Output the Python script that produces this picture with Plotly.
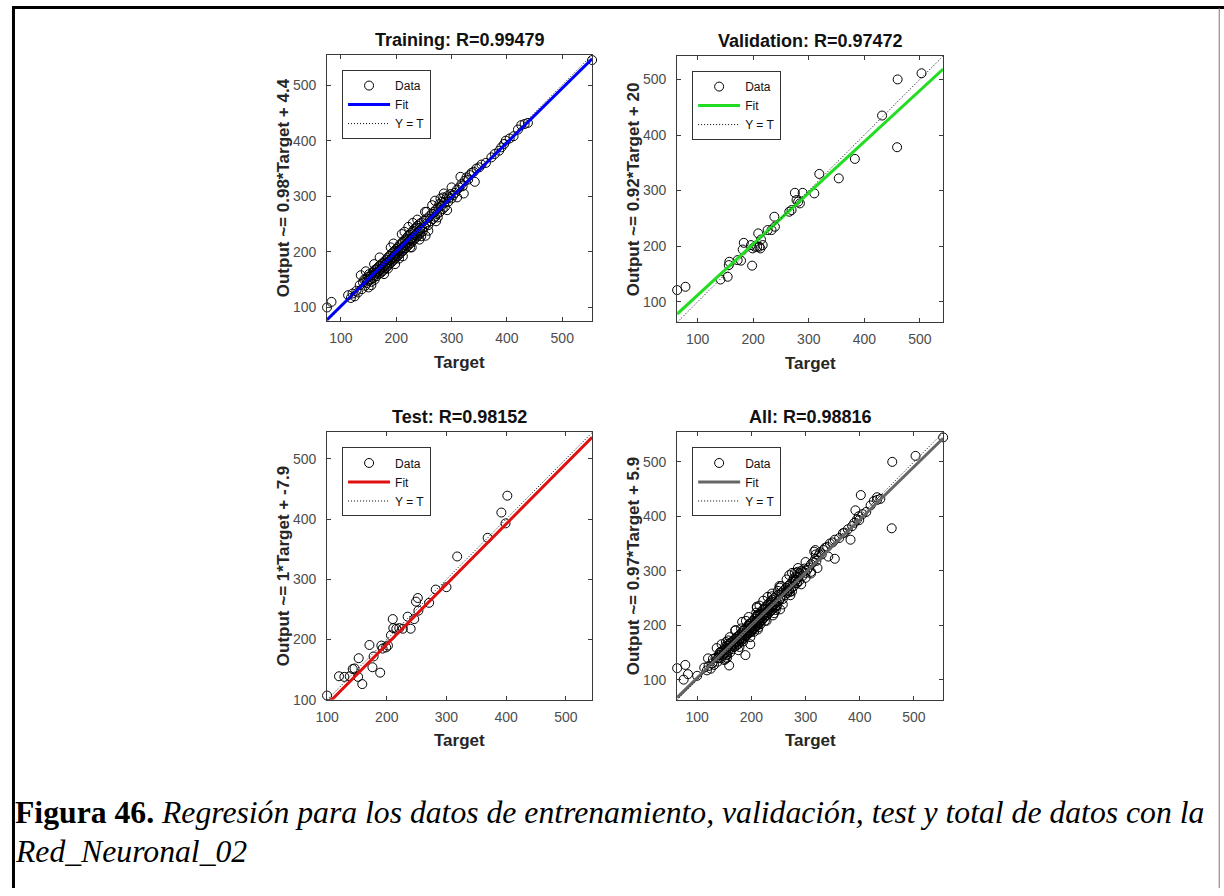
import plotly.graph_objects as go

# ---- data: targets and network outputs per subset ----
train_target = [75, 83, 113, 118, 121, 125, 128, 131, 134, 136, 138, 140, 142, 144, 146, 147, 149, 150,
                151, 153, 154, 155, 157, 158, 159, 160, 161, 162, 163, 164, 165, 166, 167, 168, 169, 170,
                171, 172, 173, 174, 175, 176, 177, 178, 179, 180, 181, 182, 183, 184, 185, 186, 187, 188,
                189, 190, 191, 192, 193, 194, 195, 196, 197, 198, 199, 200, 201, 202, 203, 204, 205, 206,
                207, 208, 209, 210, 211, 212, 213, 214, 215, 216, 217, 218, 219, 220, 221, 222, 223, 224,
                225, 226, 227, 228, 229, 230, 231, 232, 233, 234, 235, 236, 237, 238, 239, 240, 241, 242,
                243, 244, 246, 247, 248, 250, 251, 253, 254, 256, 258, 260, 262, 264, 266, 268, 270, 272,
                274, 276, 278, 279, 280, 282, 283, 284, 285, 287, 288, 290, 292, 294, 296, 298, 300, 303,
                306, 310, 314, 318, 320, 324, 327, 330, 333, 336, 340, 342, 345, 350, 354, 362, 372, 378,
                386, 390, 395, 398, 405, 412, 420, 426, 432, 438, 554,
                150, 160, 185, 190, 205, 215, 225, 230, 245, 255, 265, 275, 300, 310,
                145, 155, 170, 178, 195, 198, 210, 212, 222, 228, 238, 242, 252, 258, 270, 272, 286, 292,
                316, 322]
train_output = [100, 110, 122, 117, 125, 120, 130, 127, 140, 158, 133, 145, 150, 139, 152, 144, 155, 148,
                160, 150, 157, 146, 162, 153, 165, 158, 150, 168, 161, 156, 170, 163, 172, 160, 166, 175,
                168, 162, 178, 170, 165, 180, 173, 168, 183, 176, 171, 186, 179, 174, 190, 182, 177, 193,
                185, 180, 196, 188, 183, 199, 191, 186, 202, 194, 189, 205, 197, 192, 208, 200, 195, 212,
                203, 198, 215, 206, 201, 218, 209, 204, 221, 212, 207, 224, 215, 210, 228, 218, 213, 231,
                221, 216, 234, 224, 219, 238, 227, 222, 241, 230, 225, 244, 233, 228, 247, 236, 231, 250,
                239, 234, 253, 242, 237, 256, 245, 229, 250, 260, 248, 264, 255, 268, 259, 272, 263, 276,
                268, 280, 286, 272, 296, 283, 290, 277, 298, 288, 281, 295, 300, 290, 298, 304, 296, 302,
                306, 312, 316, 322, 318, 328, 334, 330, 338, 342, 344, 326, 350, 352, 357, 360, 370, 376,
                382, 388, 394, 400, 404, 408, 420, 428, 430, 432, 545,
                136, 178, 170, 208, 188, 236, 208, 252, 228, 272, 284, 262, 316, 298,
                165, 140, 190, 160, 215, 178, 232, 192, 245, 208, 258, 222, 272, 238, 292, 255, 305, 275,
                335, 305]

val_target = [63, 78, 141, 154, 156, 157, 172, 178, 181, 183, 196, 198, 199, 203, 207, 209, 211, 213,
              214, 217, 226, 233, 238, 239, 265, 269, 275, 278, 281, 284, 289, 310, 319, 354, 383, 432,
              459, 460, 503]
val_output = [121, 127, 140, 145, 166, 172, 175, 174, 194, 206, 202, 165, 196, 199, 199, 223, 199, 196,
              212, 202, 229, 229, 253, 235, 262, 265, 296, 283, 280, 277, 296, 295, 330, 322, 357, 435,
              378, 500, 511]

test_target = [100, 120, 129, 138, 143, 146, 152, 153, 159, 171, 176, 178, 189, 191, 193, 199, 202, 207,
               210, 211, 216, 221, 227, 235, 240, 246, 249, 252, 253, 271, 282, 300, 318, 369, 392, 399,
               402]
test_output = [107, 139, 138, 139, 151, 152, 138, 169, 126, 191, 154, 172, 145, 190, 185, 187, 190, 207,
               234, 219, 218, 219, 218, 238, 218, 234, 263, 269, 248, 261, 283, 287, 338, 369, 411, 393,
               439]

# ---- per-panel settings ----
titles = ["Training: R=0.99479", "Validation: R=0.97472", "Test: R=0.98152", "All: R=0.98816"]
ylabels = ["Output ~= 0.98*Target + 4.4", "Output ~= 0.92*Target + 20",
           "Output ~= 1*Target + -7.9", "Output ~= 0.97*Target + 5.9"]
slopes = [0.98, 0.92, 1.0, 0.97]
intercepts = [4.4, 20, -7.9, 5.9]
limits = [(75, 554), (63, 542), (100, 544), (63, 554)]
fit_colors = ["#0000ff", "#22dd22", "#e01010", "#666666"]
tick_vals = [100, 200, 300, 400, 500]

targets = [train_target, val_target, test_target, train_target + val_target + test_target]
outputs = [train_output, val_output, test_output, train_output + val_output + test_output]

W, H = 1224, 896
# page layout is specified in screen pixels; the rendered page sits 12 px in and at 0.99 scale
OFFSET_X, SCALE = 12, 0.99


def fx(px):
    return (px - OFFSET_X) / SCALE / W


def fy(py):
    return 1 - py / SCALE / H


# axes boxes in screen pixels: left, right, top, bottom
boxes = [(327, 592, 55, 321), (677, 943, 56, 322), (327, 592, 432, 699), (677, 943, 432, 699)]

fig = go.Figure()
AX = "#3a3a3a"
SANS = "Liberation Sans, Arial, sans-serif"
SERIF = "Liberation Serif, Times New Roman, serif"
TICKFONT = dict(family=SANS, size=14, color="#4d4d4d")

annotations = []
legends = {}
for i in range(4):
    n = "" if i == 0 else str(i + 1)
    xa, ya = "x" + n, "y" + n
    lg = "legend" + n
    lo, hi = limits[i]
    l, r, t, b = boxes[i]

    fig.add_trace(go.Scatter(
        x=targets[i], y=outputs[i], mode="markers", name="Data", xaxis=xa, yaxis=ya, legend=lg,
        marker=dict(symbol="circle-open", size=9, color="black", line=dict(width=1, color="black")),
        cliponaxis=False))
    fig.add_trace(go.Scatter(
        x=[lo, hi], y=[slopes[i] * lo + intercepts[i], slopes[i] * hi + intercepts[i]],
        mode="lines", name="Fit", xaxis=xa, yaxis=ya, legend=lg,
        line=dict(color=fit_colors[i], width=3)))
    fig.add_trace(go.Scatter(
        x=[lo, hi], y=[lo, hi], mode="lines", name="Y = T", xaxis=xa, yaxis=ya, legend=lg,
        line=dict(color="black", width=1, dash="1px,2px")))

    axis_common = dict(range=[lo, hi], tickvals=tick_vals, ticks="inside", ticklen=4, tickcolor=AX,
                       showline=True, linecolor=AX, linewidth=1, mirror="ticks", showgrid=False,
                       zeroline=False, tickfont=TICKFONT)
    fig.update_layout(**{
        "xaxis" + n: dict(domain=[fx(l), fx(r)], anchor=ya, ticklabelstandoff=4, **axis_common),
        "yaxis" + n: dict(domain=[fy(b), fy(t)], anchor=xa, ticklabelstandoff=7, **axis_common),
    })

    cx = (l + r) / 2
    cy = (t + b) / 2
    annotations.append(dict(text="<b>" + titles[i] + "</b>", x=fx(cx), y=fy(t - 15),
                            xref="paper", yref="paper", showarrow=False, xanchor="center",
                            yanchor="middle", font=dict(family=SANS, size=18, color="#111111")))
    annotations.append(dict(text="<b>Target</b>", x=fx(cx), y=fy(b + 41),
                            xref="paper", yref="paper", showarrow=False, xanchor="center",
                            yanchor="middle", font=dict(family=SANS, size=17, color="#262626")))
    annotations.append(dict(text="<b>" + ylabels[i] + "</b>", x=fx(l - 44), y=fy(cy),
                            xref="paper", yref="paper", showarrow=False, xanchor="center",
                            yanchor="middle", textangle=-90,
                            font=dict(family=SANS, size=17, color="#262626")))

    legends[lg] = dict(x=fx(l + 15), y=fy(t + 15), xanchor="left", yanchor="top",
                       bgcolor="white", bordercolor="#333333", borderwidth=1,
                       font=dict(family=SANS, size=12, color="#111111"),
                       tracegroupgap=0, itemwidth=42)

# figure caption
annotations.append(dict(
    text="<b>Figura 46.</b> <i>Regresión para los datos de entrenamiento, validación, test y total de datos con la</i>",
    x=fx(13), y=fy(812), xref="paper", yref="paper", showarrow=False, xanchor="left",
    yanchor="middle", font=dict(family=SERIF, size=31.7, color="black")))
annotations.append(dict(
    text="<i>Red_Neuronal_02</i>",
    x=fx(13), y=fy(851), xref="paper", yref="paper", showarrow=False, xanchor="left",
    yanchor="middle", font=dict(family=SERIF, size=31.7, color="black")))

# page frame
shapes = [
    dict(type="line", xref="paper", yref="paper", x0=0, x1=1, y0=fy(7.5), y1=fy(7.5),
         line=dict(color="black", width=3)),
    dict(type="line", xref="paper", yref="paper", x0=1.5 / W, x1=1.5 / W, y0=0, y1=fy(6),
         line=dict(color="black", width=3)),
    dict(type="line", xref="paper", yref="paper", x0=fx(1219), x1=fx(1219), y0=0, y1=fy(8),
         line=dict(color="#777777", width=1)),
]

fig.update_layout(width=W, height=H, autosize=False, margin=dict(l=0, r=0, t=0, b=0, pad=0),
                  paper_bgcolor="white", plot_bgcolor="white", showlegend=True,
                  annotations=annotations, shapes=shapes, **legends)

fig.write_html("out.html", config={"displayModeBar": False, "responsive": False})
